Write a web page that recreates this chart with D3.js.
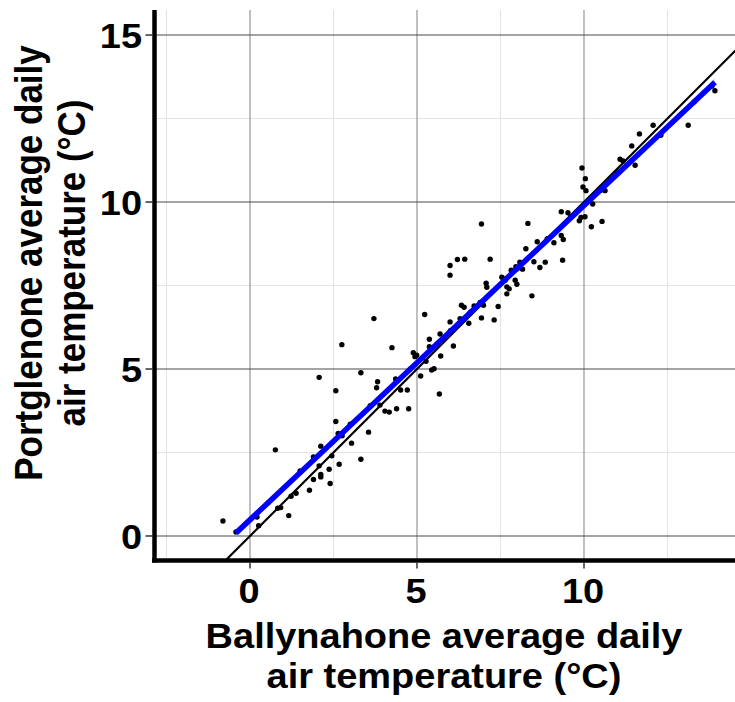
<!DOCTYPE html>
<html>
<head>
<meta charset="utf-8">
<script src="https://cdn.jsdelivr.net/npm/d3@7"></script>
<style>
  body { margin: 0; background: #fff; }
  svg text { font-family: "Liberation Sans", Arial, sans-serif; font-weight: bold; fill: #000; }
</style>
</head>
<body>
<svg id="chart" width="735" height="702"></svg>
<script>
// daily means: Ballynahone (x) vs Portglenone (y)
const ballynahone = [
  -0.81, 0.26, 0.21, 0.76, 0.83, 0.92, 1.16, 1.23, 1.38, 1.78, 1.90, 2.12, 2.12, 2.07, 2.40, 2.37,
  2.45, 2.12, 1.90, 2.67, 3.32, 3.04, 2.57, 2.64, 2.76, 3.55, 2.57, 3.82, 3.79, 3.89, 4.04, 4.17,
  4.39, 4.75, 4.51, 4.71, 5.67, 3.71, 2.75, 4.25, 5.23, 2.07, 3.32, 4.36, 4.89, 4.94, 4.99, 5.11,
  5.27, 5.37, 5.37, 5.44, 5.51, 5.69, 5.71, 5.99, 5.99, 5.99, 9.32, 9.52, 9.91, 10.03, 9.86, 10.22,
  10.54, 10.26, 6.93, 8.32, 6.21, 6.43, 7.19, 8.26, 8.60, 9.10, 9.32, 9.38, 9.36, 8.68, 8.50, 8.84,
  8.08, 8.16, 7.96, 7.82, 7.54, 7.64, 7.69, 7.76, 7.99, 7.94, 7.07, 7.09, 7.69, 8.44, 6.33, 6.41,
  6.89, 6.99, 7.43, 6.29, 6.55, 6.93, 7.31, 6.09, 6.71, 9.94, 10.04, 9.97, 10.06, 10.63, 10.48, 11.08,
  11.17, 11.53, 11.43, 11.66, 12.07, 13.12, 13.92, 13.83,
  -0.42, 0.55, 1.50, 3.00, 3.60, 4.40, 4.80, 5.60, 6.00, 6.60, 7.60, 8.00, 8.90, 9.60, 10.50, 11.00,
  12.30, 13.30
];
const portglenone = [
  0.45, 0.31, 0.57, 2.58, 0.83, 0.85, 0.61, 1.19, 1.28, 1.37, 1.69, 1.77, 1.84, 2.10, 1.57, 2.00,
  2.40, 2.69, 2.37, 2.15, 2.30, 2.78, 3.43, 3.07, 3.00, 3.11, 4.35, 4.62, 4.44, 3.92, 3.74, 3.71,
  3.81, 3.81, 4.37, 4.37, 4.25, 6.51, 5.73, 5.64, 6.63, 4.75, 4.89, 4.70, 5.49, 5.37, 5.41, 4.79,
  5.23, 5.89, 5.67, 4.97, 5.01, 6.05, 5.39, 8.10, 7.81, 6.41, 9.71, 9.68, 9.54, 9.56, 9.44, 9.26,
  9.42, 9.94, 9.34, 9.36, 8.28, 8.29, 8.29, 8.60, 8.81, 8.78, 9.00, 8.88, 8.26, 8.04, 8.21, 8.20,
  8.20, 7.99, 8.06, 7.96, 7.75, 7.66, 7.46, 7.40, 7.54, 7.66, 7.57, 7.45, 7.25, 7.19, 6.91, 6.85,
  6.99, 6.91, 6.87, 6.51, 6.37, 6.53, 6.47, 5.69, 6.89, 11.02, 10.70, 10.45, 10.34, 10.34, 10.40, 11.28,
  11.23, 11.10, 11.68, 12.04, 12.30, 12.30, 13.33, 13.47,
  0.12, 1.00, 1.95, 3.35, 3.90, 4.65, 5.00, 5.75, 6.15, 6.70, 7.70, 8.00, 8.90, 9.55, 10.35, 10.90,
  12.00, 13.00
];

// linear fit (blue) and its narrow confidence band
const fitIntercept = 0.485;
const fitSlope = 0.941;
const fitX = [-0.42, 3.0, 6.5, 10.0, 13.92];
const fitBand = [0.12, 0.06, 0.04, 0.06, 0.12];

const xTicks = [0, 5, 10];
const yTicks = [0, 5, 10, 15];
const xMinor = [-2.5, 2.5, 7.5, 12.5];
const yMinor = [2.5, 7.5, 12.5];
const xTitle = ['Ballynahone average daily', 'air temperature (°C)'];
const yTitle = ['Portglenone average daily', 'air temperature (°C)'];

const svg = d3.select('#chart');
const panel = {left: 155, right: 735, top: 10, bottom: 560};
const stretch = 1.085;   // text in the picture is a bit wider than plain Arial

const x = d3.scaleLinear().domain([-2.844, 14.521]).range([panel.left, panel.right]);
const y = d3.scaleLinear().domain([-0.719, 15.75]).range([panel.bottom, panel.top]);

svg.append('clipPath').attr('id', 'clip')
  .append('rect')
  .attr('x', panel.left).attr('y', panel.top)
  .attr('width', panel.right - panel.left).attr('height', panel.bottom - panel.top);

const g = svg.append('g').attr('clip-path', 'url(#clip)');

// minor grid
g.selectAll('.vminor').data(xMinor).join('line')
  .attr('x1', d => x(d)).attr('x2', d => x(d))
  .attr('y1', panel.top).attr('y2', panel.bottom)
  .attr('stroke', '#e3e3e3').attr('stroke-width', 1.1);
g.selectAll('.hminor').data(yMinor).join('line')
  .attr('y1', d => y(d)).attr('y2', d => y(d))
  .attr('x1', panel.left).attr('x2', panel.right)
  .attr('stroke', '#e3e3e3').attr('stroke-width', 1.1);

// major grid
g.selectAll('.vmajor').data(xTicks).join('line')
  .attr('x1', d => x(d)).attr('x2', d => x(d))
  .attr('y1', panel.top).attr('y2', panel.bottom)
  .attr('stroke', '#8c8c8c').attr('stroke-width', 1.1);
g.selectAll('.hmajor').data(yTicks).join('line')
  .attr('y1', d => y(d)).attr('y2', d => y(d))
  .attr('x1', panel.left).attr('x2', panel.right)
  .attr('stroke', '#4a4a4a').attr('stroke-width', 1.1);

// points
g.selectAll('circle').data(ballynahone.map((v, i) => [v, portglenone[i]])).join('circle')
  .attr('cx', d => x(d[0])).attr('cy', d => y(d[1]))
  .attr('r', 2.7).attr('fill', '#000');

// 1:1 line
g.append('line')
  .attr('x1', x(-1)).attr('y1', y(-1))
  .attr('x2', x(16)).attr('y2', y(16))
  .attr('stroke', '#000').attr('stroke-width', 2.2);

// confidence band + fitted line
const band = d3.area()
  .x(d => x(d[0]))
  .y0(d => y(fitIntercept + fitSlope * d[0] - d[1]))
  .y1(d => y(fitIntercept + fitSlope * d[0] + d[1]))
  .curve(d3.curveMonotoneX);
g.append('path')
  .datum(fitX.map((v, i) => [v, fitBand[i]]))
  .attr('d', band)
  .attr('fill', '#999').attr('fill-opacity', 0.4);

const xs = d3.extent(fitX);
g.append('line')
  .attr('x1', x(xs[0])).attr('y1', y(fitIntercept + fitSlope * xs[0]))
  .attr('x2', x(xs[1])).attr('y2', y(fitIntercept + fitSlope * xs[1]))
  .attr('stroke', '#0000ff').attr('stroke-width', 5.5);

// axis lines
svg.append('line')
  .attr('x1', 154.5).attr('x2', 154.5)
  .attr('y1', panel.top).attr('y2', panel.bottom + 2.5)
  .attr('stroke', '#000').attr('stroke-width', 4.5);
svg.append('line')
  .attr('x1', 152).attr('x2', panel.right)
  .attr('y1', panel.bottom + 0.5).attr('y2', panel.bottom + 0.5)
  .attr('stroke', '#000').attr('stroke-width', 4.5);

// ticks
svg.selectAll('.ytick').data(yTicks).join('line')
  .attr('x1', 145.5).attr('x2', 152.5)
  .attr('y1', d => y(d)).attr('y2', d => y(d))
  .attr('stroke', '#333').attr('stroke-width', 1.5);
svg.selectAll('.xtick').data(xTicks).join('line')
  .attr('x1', d => x(d)).attr('x2', d => x(d))
  .attr('y1', 562.5).attr('y2', 568.5)
  .attr('stroke', '#333').attr('stroke-width', 1.5);

// tick labels
svg.selectAll('.ylab').data(yTicks).join('text')
  .attr('transform', d => `translate(142,${y(d)}) scale(${stretch},1)`)
  .attr('text-anchor', 'end').attr('dy', '0.36em')
  .style('font-size', '35px')
  .text(d => d);
svg.selectAll('.xlab').data(xTicks).join('text')
  .attr('transform', d => `translate(${x(d) - 1},603) scale(${stretch},1)`)
  .attr('text-anchor', 'middle')
  .style('font-size', '35px')
  .text(d => d);

// axis titles
svg.selectAll('.xtitle').data(xTitle).join('text')
  .attr('transform', (d, i) => `translate(444,${648 + i * 40}) scale(${stretch},1)`)
  .attr('text-anchor', 'middle')
  .style('font-size', '35px')
  .text(d => d);
svg.selectAll('.ytitle').data(yTitle).join('text')
  .attr('transform', (d, i) => `translate(${42 + i * 43},263) scale(${stretch},1) rotate(-90)`)
  .attr('text-anchor', 'middle')
  .style('font-size', '35px')
  .text(d => d);
</script>
</body>
</html>
